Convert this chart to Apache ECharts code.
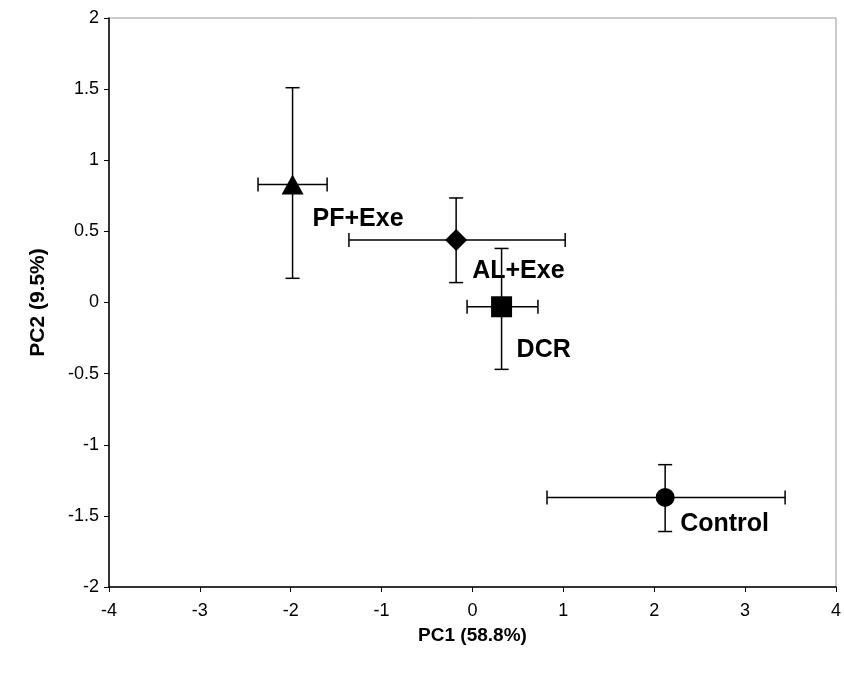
<!DOCTYPE html>
<html>
<head>
<meta charset="utf-8">
<script src="https://cdn.jsdelivr.net/npm/echarts@6/dist/echarts.min.js"></script>
<style>html,body{margin:0;padding:0;background:#fff}#c{width:844px;height:681px}</style>
</head>
<body>
<div id="c"></div>
<script>
const groups = ['PF+Exe', 'AL+Exe', 'DCR', 'Control'];
const symbols = ['triangle', 'diamond', 'rect', 'circle'];
const pc1 = [-1.98, -0.18, 0.32, 2.12];
const pc2 = [0.83, 0.44, -0.03, -1.37];
const pc1Low = [-2.36, -1.36, -0.06, 0.82];
const pc1High = [-1.60, 1.02, 0.72, 3.44];
const pc2Low = [0.17, 0.14, -0.47, -1.61];
const pc2High = [1.51, 0.735, 0.38, -1.14];
const xTicks = [-4, -3, -2, -1, 0, 1, 2, 3, 4];
const yTicks = [-2, -1.5, -1, -0.5, 0, 0.5, 1, 1.5, 2];

const labelOffsets = [[20, 35], [16, 31], [15, 43], [15, 27]];
const symbolSizes = [[22, 20], [22, 22], [21, 21], [19, 19]];

const chart = echarts.init(document.getElementById('c'));
const font = '"Liberation Sans", Arial, sans-serif';
const cap = 7;

const errData = groups.map((g, i) => [pc1[i], pc2[i], pc1Low[i], pc1High[i], pc2Low[i], pc2High[i]]);

const series = [{
  type: 'custom',
  data: errData,
  z: 2,
  silent: true,
  renderItem: function (params, api) {
    const c = api.coord([api.value(0), api.value(1)]);
    const xl = api.coord([api.value(2), api.value(1)]);
    const xh = api.coord([api.value(3), api.value(1)]);
    const yl = api.coord([api.value(0), api.value(4)]);
    const yh = api.coord([api.value(0), api.value(5)]);
    const st = { stroke: '#000', lineWidth: 1.5 };
    return {
      type: 'group',
      children: [
        { type: 'line', shape: { x1: xl[0], y1: c[1], x2: xh[0], y2: c[1] }, style: st },
        { type: 'line', shape: { x1: xl[0], y1: c[1] - cap, x2: xl[0], y2: c[1] + cap }, style: st },
        { type: 'line', shape: { x1: xh[0], y1: c[1] - cap, x2: xh[0], y2: c[1] + cap }, style: st },
        { type: 'line', shape: { x1: c[0], y1: yl[1], x2: c[0], y2: yh[1] }, style: st },
        { type: 'line', shape: { x1: c[0] - cap, y1: yl[1], x2: c[0] + cap, y2: yl[1] }, style: st },
        { type: 'line', shape: { x1: c[0] - cap, y1: yh[1], x2: c[0] + cap, y2: yh[1] }, style: st }
      ]
    };
  }
}];

groups.forEach((g, i) => {
  series.push({
    type: 'scatter',
    name: g,
    z: 3,
    silent: true,
    symbol: symbols[i],
    symbolSize: symbolSizes[i],
    itemStyle: { color: '#000', opacity: 1 },
    emphasis: { disabled: true },
    data: [[pc1[i], pc2[i]]],
    label: {
      show: true,
      formatter: g,
      position: 'inside',
      offset: labelOffsets[i],
      align: 'left',
      verticalAlign: 'middle',
      color: '#000',
      opacity: 1,
      fontFamily: font,
      fontWeight: 'bold',
      fontSize: 25
    }
  });
});

chart.setOption({
  animation: false,
  backgroundColor: '#fff',
  grid: { left: 109, right: 8, top: 18, bottom: 94, show: true, borderColor: '#999', borderWidth: 1 },
  xAxis: {
    type: 'value', min: xTicks[0], max: xTicks[xTicks.length - 1], interval: 1,
    name: 'PC1 (58.8%)', nameLocation: 'middle', nameGap: 39,
    nameTextStyle: { fontFamily: font, fontWeight: 'bold', fontSize: 19, color: '#000' },
    axisLine: { onZero: false, lineStyle: { color: '#000', width: 1.5 } },
    axisTick: { show: true, length: 5, lineStyle: { color: '#000' } },
    axisLabel: { fontFamily: font, fontSize: 18, color: '#000', margin: 15 },
    splitLine: { show: false }
  },
  yAxis: {
    type: 'value', min: yTicks[0], max: yTicks[yTicks.length - 1], interval: 0.5,
    name: 'PC2 (9.5%)', nameLocation: 'middle', nameGap: 60,
    nameTextStyle: { fontFamily: font, fontWeight: 'bold', fontSize: 21, color: '#000' },
    axisLine: { onZero: false, lineStyle: { color: '#000', width: 1.5 } },
    axisTick: { show: true, length: 5, lineStyle: { color: '#000' } },
    axisLabel: { fontFamily: font, fontSize: 18, color: '#000', margin: 10 },
    splitLine: { show: false }
  },
  series: series
});
</script>
</body>
</html>
